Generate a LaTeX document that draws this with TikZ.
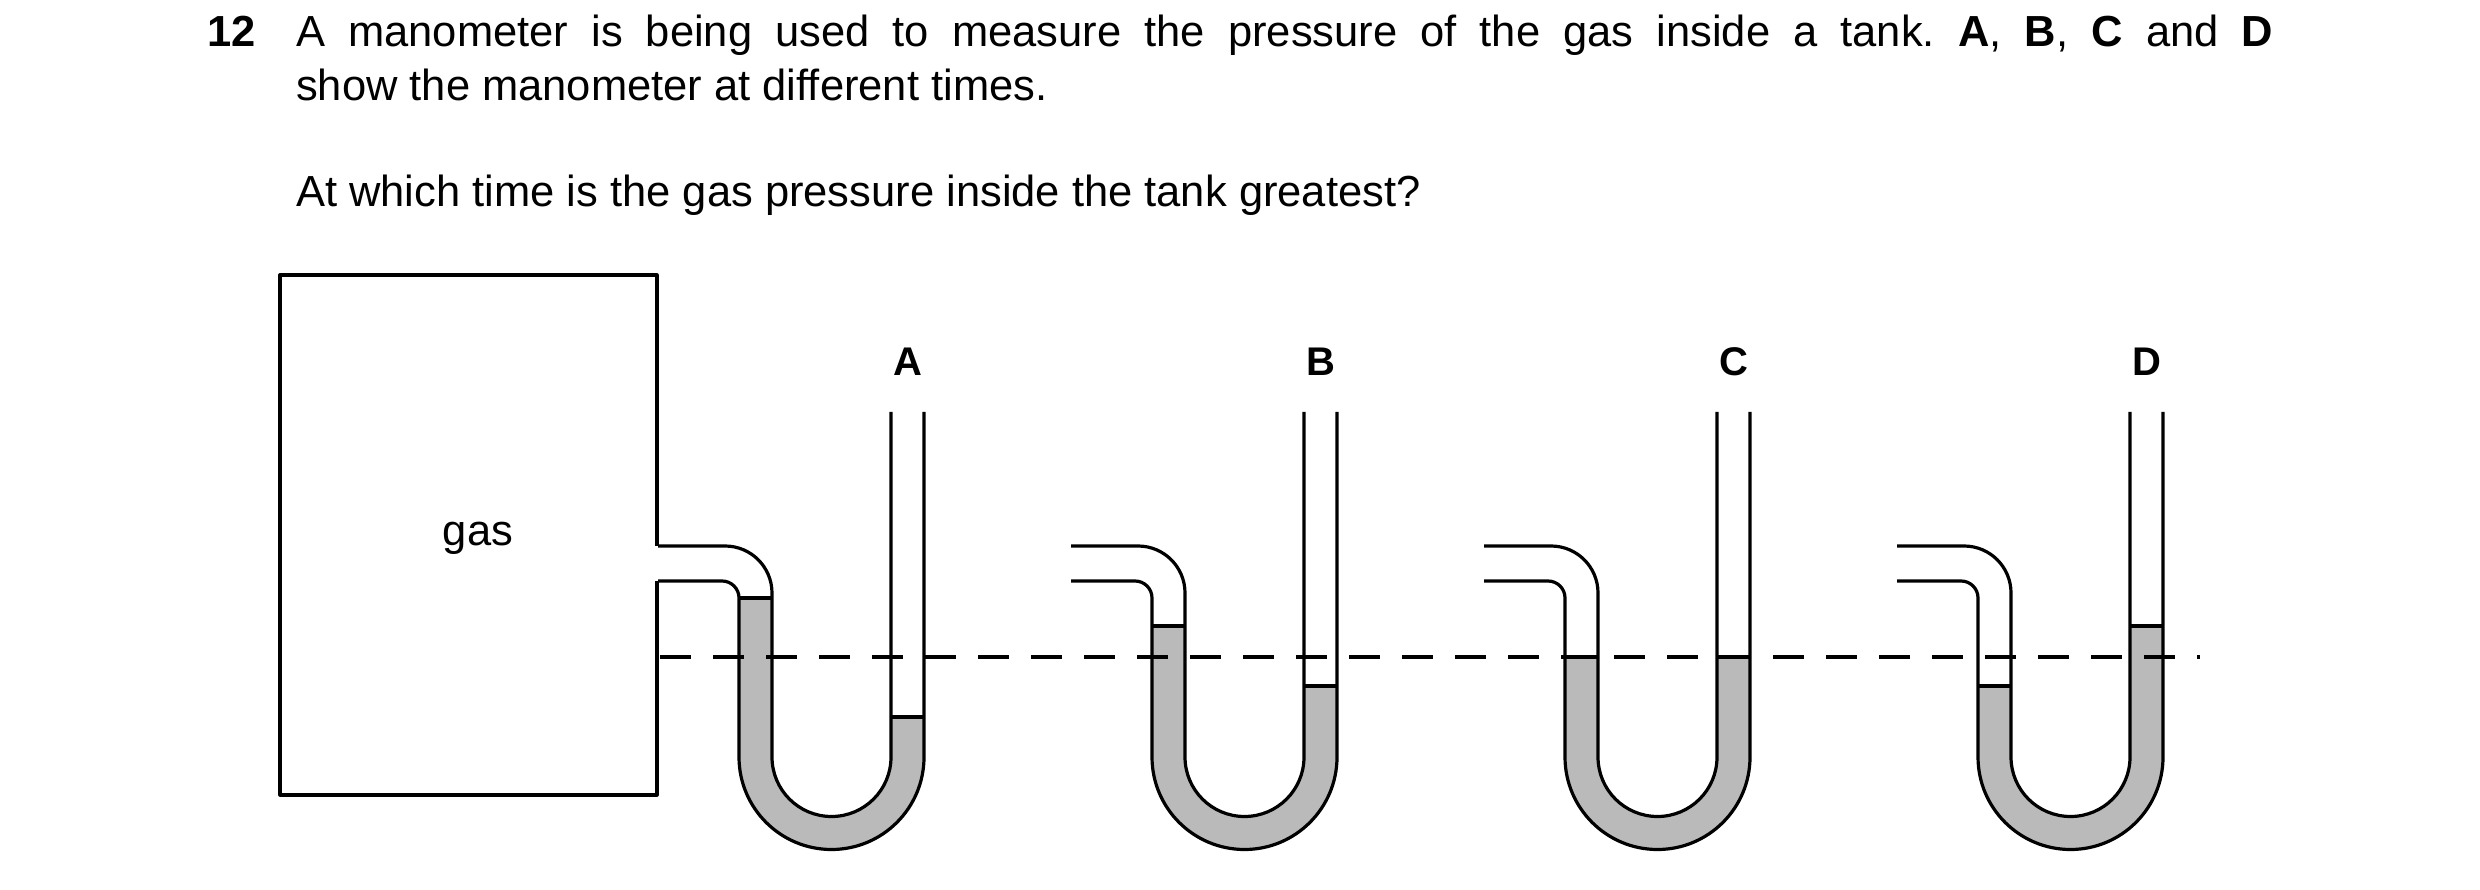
\documentclass[tikz,border=0pt]{standalone}
\usepackage{fontspec}
\setmainfont{Liberation Sans}
\begin{document}
\frenchspacing
\begin{tikzpicture}[x=1pt,y=1pt,
  wall/.style={line width=3.2pt, line join=round},
  liquid/.style={fill=black!27},
  lbl/.style={font=\fontsize{40}{45}\selectfont\bfseries},
  txt/.style={font=\fontsize{43.5}{54}\selectfont, inner sep=0pt}]
\useasboundingbox (0,0) rectangle (2480,889);
% text
\node[txt, anchor=base west] (num) at (207,842) {\textbf{12}};
\node[txt, anchor=base west, text width=1977pt, align=justify] (q) at (296,842)
 {A manometer is being used to measure the pressure of the gas inside a tank. \textbf{A}, \textbf{B}, \textbf{C} and \textbf{D}\linebreak show the manometer at different times.};
\node[txt, anchor=base west] (q2) at (296,682) {At which time is the gas pressure inside the tank greatest?};
% tank
\draw[wall] (657,343) -- (657,614) -- (280,614) -- (280,94) -- (657,94) -- (657,308);
\node[txt] (gas) at (478,351) {gas};
% manometers: offset, left level, right level, label
\foreach \dx/\L/\R/\lab in {0/291/172/A, 413/263/203/B, 826/232/232/C, 1239/203/263/D}{
  \begin{scope}[xshift=\dx pt]
    \fill[liquid] (739,\L) -- (739,132) arc[start angle=180,end angle=360,radius=92.5]
      -- (924,\R) -- (891,\R) -- (891,132) arc[start angle=0,end angle=-180,radius=59.5]
      -- (772,\L) -- cycle;
    \draw[wall] (658,343) -- (725,343) arc[start angle=90,end angle=0,radius=47] -- (772,132)
      arc[start angle=180,end angle=360,radius=59.5] -- (891,477);
    \draw[wall] (658,308) -- (722,308) arc[start angle=90,end angle=0,radius=17] -- (739,132)
      arc[start angle=180,end angle=360,radius=92.5] -- (924,477);
    \draw[wall] (739,\L) -- (772,\L);
    \draw[wall] (891,\R) -- (924,\R);
    \node[lbl] (m\lab) at (907.5,527) {\lab};
  \end{scope}
}
\draw[line width=3.2pt, dash pattern=on 31pt off 22pt] (660,232) -- (2200,232);
\end{tikzpicture}
\end{document}
